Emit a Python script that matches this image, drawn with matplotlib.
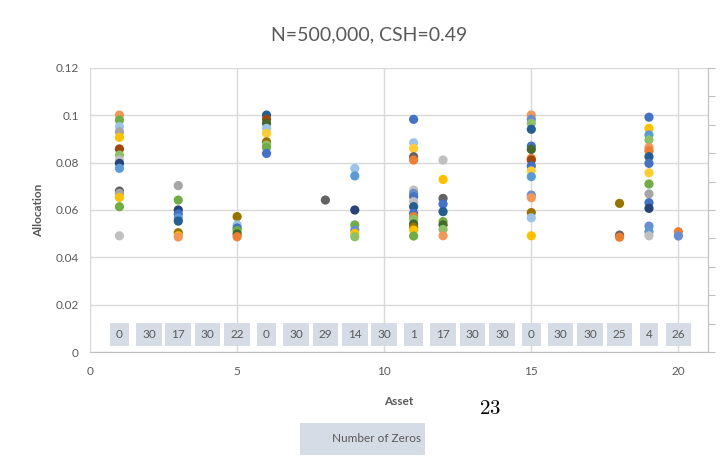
#!/usr/bin/env python3
"""Excel-style allocation scatter: N=500,000, CSH=0.49."""

import matplotlib.pyplot as plt
from matplotlib.patches import Rectangle

plt.rcParams["font.family"] = ["Lato", "DejaVu Sans"]
plt.rcParams["mathtext.fontset"] = "cm"

# Excel office palette, keyed by short names
palette = {
    "blue": "#4472C4", "orange": "#ED7D31", "gray": "#A5A5A5", "yellow": "#FFC000",
    "sky": "#5B9BD5", "green": "#70AD47", "navy": "#264478", "brown": "#9E480E",
    "dgray": "#636363", "olive": "#997300", "steel": "#255E91", "dgreen": "#43682B",
    "lblue": "#698ED0", "peach": "#F1975A", "lgray": "#C0C0C0", "lyellow": "#FFCD33",
    "lsky": "#9DC3E6", "lgreen": "#8CC168",
}

assets = [1, 3, 5, 6, 8, 9, 11, 12, 15, 18, 19, 20]

alloc = {
    1: [0.1001, 0.0980, 0.0952, 0.0930, 0.0907, 0.0858, 0.0832, 0.0811, 0.0797, 0.0776,
        0.0680, 0.0670, 0.0653, 0.0614, 0.0491],
    3: [0.0703, 0.0642, 0.0600, 0.0583, 0.0566, 0.0553, 0.0504, 0.0491, 0.0486],
    5: [0.0572, 0.0537, 0.0524, 0.0513, 0.0499, 0.0487],
    6: [0.1001, 0.0983, 0.0966, 0.0945, 0.0924, 0.0888, 0.0874, 0.0864, 0.0839],
    8: [0.0642],
    9: [0.0776, 0.0744, 0.0600, 0.0537, 0.0515, 0.0501, 0.0487],
    11: [0.0983, 0.0884, 0.0860, 0.0825, 0.0811, 0.0684, 0.0670, 0.0656, 0.0635, 0.0614,
         0.0586, 0.0572, 0.0561, 0.0541, 0.0527, 0.0515, 0.0490],
    12: [0.0811, 0.0729, 0.0649, 0.0625, 0.0593, 0.0551, 0.0537, 0.0518, 0.0491],
    15: [0.1001, 0.0983, 0.0966, 0.0941, 0.0870, 0.0856, 0.0818, 0.0811, 0.0786, 0.0765,
         0.0741, 0.0663, 0.0652, 0.0589, 0.0567, 0.0491],
    18: [0.0628, 0.0494, 0.0485],
    19: [0.0992, 0.0945, 0.0917, 0.0896, 0.0864, 0.0850, 0.0825, 0.0797, 0.0757, 0.0710,
         0.0668, 0.0631, 0.0607, 0.0532, 0.0508, 0.0491],
    20: [0.0508, 0.0490],
}

shade = {
    1: ["peach", "green", "lsky", "gray", "yellow", "brown", "lgreen", "lgray", "navy", "sky",
        "dgray", "gray", "yellow", "green", "lgray"],
    3: ["gray", "green", "navy", "blue", "sky", "steel", "olive", "yellow", "peach"],
    5: ["olive", "lsky", "blue", "green", "dgreen", "orange"],
    6: ["steel", "brown", "dgreen", "lsky", "lyellow", "olive", "lgreen", "green", "blue"],
    8: ["dgray"],
    9: ["lsky", "sky", "navy", "green", "lblue", "yellow", "lgreen"],
    11: ["blue", "lsky", "lyellow", "dgray", "orange", "lgray", "lblue", "blue", "lgray", "steel",
         "blue", "orange", "lgreen", "dgreen", "olive", "yellow", "green"],
    12: ["lgray", "yellow", "dgray", "blue", "steel", "green", "dgreen", "lgreen", "peach"],
    15: ["peach", "lblue", "lgreen", "steel", "blue", "dgreen", "orange", "brown", "blue",
         "lyellow", "sky", "lblue", "peach", "olive", "lsky", "yellow"],
    18: ["olive", "dgray", "orange"],
    19: ["blue", "yellow", "sky", "lgreen", "peach", "orange", "steel", "blue", "lyellow",
         "green", "gray", "blue", "navy", "lblue", "sky", "lgray"],
    20: ["orange", "lblue"],
}

zero_assets = list(range(1, 21))
zero_counts = [0, 30, 17, 30, 22, 0, 30, 29, 14, 30, 1, 17, 30, 30, 0, 30, 30, 25, 4, 26]

text_gray = "#595959"
grid_gray = "#D9D9D9"
box_fill = "#D6DCE5"

fig = plt.figure(figsize=(7.23, 4.59), dpi=100)
ax = fig.add_axes([0.1245, 0.2331, 0.8545, 0.6188])

for a in assets:
    ax.scatter([a] * len(alloc[a]), alloc[a], s=44,
               c=[palette[k] for k in shade[a]], edgecolors="none", zorder=3)

for a, n in zip(zero_assets, zero_counts):
    ax.text(a, 0.0075, str(n), ha="center", va="center", fontsize=8.5, color=text_gray,
            bbox=dict(boxstyle="square,pad=0.5", fc=box_fill, ec="none"), zorder=4)

ax.set_xlim(0, 21)
ax.set_ylim(0, 0.12)
ax.set_xticks([0, 5, 10, 15, 20])
ax.set_yticks([0, 0.02, 0.04, 0.06, 0.08, 0.10, 0.12])
ax.set_yticklabels(["0", "0.02", "0.04", "0.06", "0.08", "0.1", "0.12"])
ax.tick_params(length=0, labelsize=8.5, labelcolor=text_gray, pad=8)
ax.tick_params(axis="x", pad=10)
ax.grid(True, color=grid_gray, linewidth=1, zorder=0)
ax.set_axisbelow(True)
for side in ["top", "right"]:
    ax.spines[side].set_visible(False)
ax.spines["left"].set_color(grid_gray)
ax.spines["bottom"].set_color("#BFBFBF")

ax.set_xlabel("Asset", fontsize=8.5, fontweight="bold", color=text_gray, labelpad=14)
ax.set_ylabel("Allocation", fontsize=8.5, fontweight="bold", color=text_gray, labelpad=8)
fig.text(0.510, 0.924, "N=500,000, CSH=0.49", ha="center", va="center",
         fontsize=14, color=text_gray)

# secondary axis on the right: ticks only
ax2 = ax.twinx()
ax2.set_ylim(0, 1)
ax2.set_yticks([i / 10 for i in range(11)])
ax2.set_yticklabels([])
ax2.tick_params(axis="y", direction="out", length=5, color="#BFBFBF")
for side in ["top", "left", "bottom"]:
    ax2.spines[side].set_visible(False)
ax2.spines["right"].set_color("#BFBFBF")

# legend box
fig.add_artist(Rectangle((300 / 723, 1 - 455 / 459), 125 / 723, 32 / 459,
                         transform=fig.transFigure, fc=box_fill, ec="none"))
fig.text(376 / 723, 1 - 438 / 459, "Number of Zeros", ha="center", va="center",
         fontsize=8.5, color=text_gray)
fig.text(0.678, 0.112, "$23$", ha="center", va="center", fontsize=15, color="black")

fig.savefig("out.png", dpi=100)
